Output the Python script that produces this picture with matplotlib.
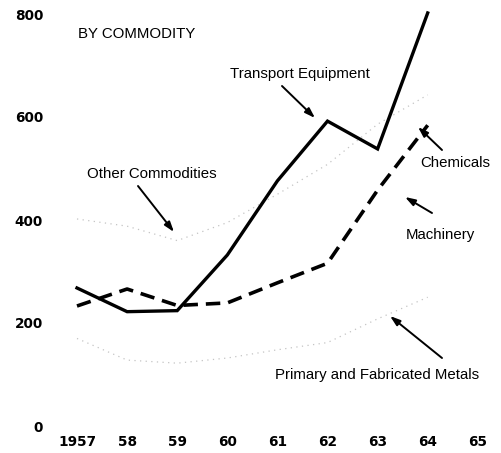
import numpy as np
import matplotlib.pyplot as plt

years = [1957, 1958, 1959, 1960, 1961, 1962, 1963, 1964]
transport = [268, 222, 224, 332, 476, 592, 538, 802]
machinery = [233, 266, 234, 239, 278, 316, 458, 584]
other_comm = [402, 388, 360, 395, 450, 508, 586, 643]
metals = [170, 128, 122, 132, 148, 162, 208, 250]

xticks = [1957, 1958, 1959, 1960, 1961, 1962, 1963, 1964, 1965]
xlabels = ['1957', '58', '59', '60', '61', '62', '63', '64', '65']
yticks = [0, 200, 400, 600, 800]

W, H = 502, 453
fig = plt.figure(figsize=(W / 100, H / 100), dpi=100)
# axes in pixel box: left 50, right 490, top 5, bottom 432
ax = fig.add_axes([50 / W, (H - 432) / H, 440 / W, 427 / H])

def px2x(px):
    return 1957 + (px - 77) / 50.1

def py2y(py):
    return (426 - py) / 0.515

ax.set_xlim(px2x(50), px2x(490))
ax.set_ylim(py2y(432), py2y(5))

lab = dict(family='Liberation Sans', fontsize=10.8, color='black')

# faint dotted series
ax.plot(years, other_comm, color='#c4c4c4', lw=0.9, ls=(0, (1, 3.5)))
ax.plot(years, metals, color='#c4c4c4', lw=0.9, ls=(0, (1, 3.5)))

ax.plot(years, machinery, color='black', lw=2.6, ls=(0, (4, 2.2)))
ax.plot(years, transport, color='black', lw=2.4, solid_joinstyle='miter')

for s in ax.spines.values():
    s.set_visible(False)
ax.set_xticks(xticks)
ax.set_xticklabels(xlabels)
ax.set_yticks(yticks)
ax.tick_params(length=0, labelsize=9.8)
ax.tick_params(axis='x', pad=2.5)
ax.tick_params(axis='y', pad=5)
for t in ax.get_xticklabels() + ax.get_yticklabels():
    t.set_fontweight('bold')

ax.text(px2x(78), py2y(34), 'BY COMMODITY', ha='left', va='center', **lab)

ap = dict(arrowstyle='-|>,head_length=0.6,head_width=0.2', color='black', lw=1.4,
          shrinkA=0, shrinkB=0)

labels = [
    ('Transport Equipment', (300, 74), (282, 86), (315, 118)),
    ('Other Commodities', (152, 174), (138, 186), (174, 232)),
    ('Chemicals', (455, 163), (442, 150), (418, 127)),
    ('Machinery', (440, 235), (432, 213), (405, 197)),
    ('Primary and Fabricated Metals', (377, 375), (442, 358), (390, 316)),
]
for text, (tx, ty), (sx, sy), (ex, ey) in labels:
    ax.text(px2x(tx), py2y(ty), text, ha='center', va='center', **lab)
    ax.annotate('', xy=(px2x(ex), py2y(ey)), xytext=(px2x(sx), py2y(sy)),
                arrowprops=ap)

fig.savefig('out.png', dpi=100)
